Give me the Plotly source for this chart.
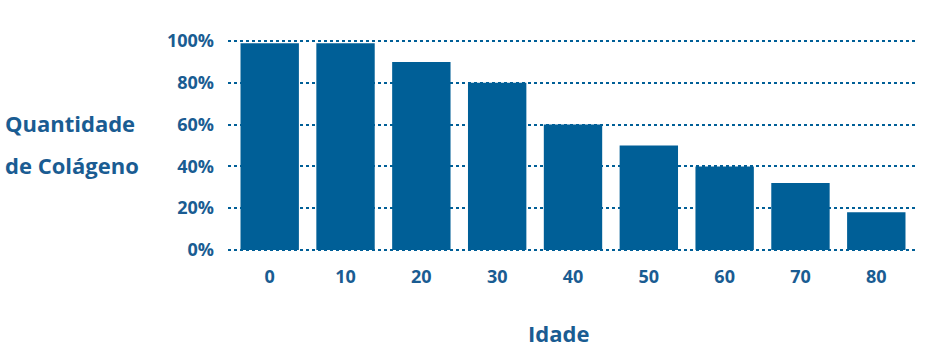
import plotly.graph_objects as go

categories = ["0", "10", "20", "30", "40", "50", "60", "70", "80"]
values = [99, 99, 90, 80, 60, 50, 40, 32, 18]
y_ticks = [0, 20, 40, 60, 80, 100]
y_labels = ["0%", "20%", "40%", "60%", "80%", "100%"]

BLUE = "#005f97"
TEXT = "#1a5c92"
FONT = "Open Sans"

L, R, T, B = 228, 12, 39, 101
W, H = 930, 353

fig = go.Figure()
fig.add_trace(go.Bar(x=categories, y=values, marker=dict(color=BLUE, line=dict(width=0)),
                     hoverinfo="skip"))

fig.update_layout(
    width=W, height=H,
    margin=dict(l=L, r=R, t=T, b=B),
    plot_bgcolor="white", paper_bgcolor="white",
    bargap=0.23,
    showlegend=False,
    font=dict(family=FONT, color=TEXT),
)
fig.update_xaxes(
    type="category", range=[-0.55, 8.55], showgrid=False, zeroline=False, showline=False,
    tickfont=dict(family=FONT, size=18, color=TEXT, weight="bold"),
    ticks="", ticklabelstandoff=12,
)
fig.update_yaxes(
    range=[-1, 101], tickvals=y_ticks, ticktext=y_labels,
    showgrid=True, gridcolor=BLUE, gridwidth=2, griddash="dot",
    zeroline=False, showline=False, ticks="",
    tickfont=dict(family=FONT, size=18, color=TEXT, weight="bold"),
    ticklabelstandoff=13,
)

def px_to_paper_x(px):
    return (px - L) / (W - L - R)

def px_to_paper_y(py):
    return 1 - (py - T) / (H - T - B)

for txt, px, py, anchor in [("Quantidade", 3, 123, "left"),
                            ("de Colágeno", 3, 165, "left"),
                            ("Idade", 558, 333, "center")]:
    fig.add_annotation(text=txt, x=px_to_paper_x(px), y=px_to_paper_y(py),
                       xref="paper", yref="paper", showarrow=False,
                       xanchor=anchor, yanchor="middle",
                       font=dict(family=FONT, size=22, color=TEXT, weight="bold"))

fig.write_html("out.html")
